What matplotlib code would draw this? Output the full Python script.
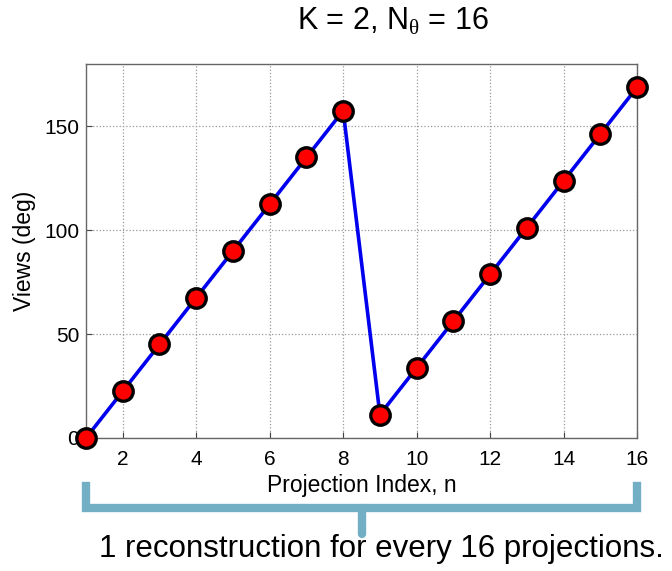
import numpy as np
import matplotlib.pyplot as plt
from matplotlib.transforms import blended_transform_factory

plt.rcParams['font.family'] = ['Liberation Sans', 'DejaVu Sans']
plt.rcParams['mathtext.fontset'] = 'custom'
plt.rcParams['mathtext.rm'] = 'Liberation Serif'

# projection index and view angle (deg), K = 2 interleaved, N_theta = 16
proj_index = [1, 2, 3, 4, 5, 6, 7, 8, 9, 10, 11, 12, 13, 14, 15, 16]
views_deg = [0, 22.5, 45, 67.5, 90, 112.5, 135, 157.5,
             11.25, 33.75, 56.25, 78.75, 101.25, 123.75, 146.25, 168.75]
x_ticks = [2, 4, 6, 8, 10, 12, 14, 16]
y_ticks = [0, 50, 100, 150]

fig = plt.figure(figsize=(6.72, 5.71), dpi=100)
ax = fig.add_axes([0.128, 0.233, 0.820, 0.655])

ax.plot(proj_index, views_deg, '-o', color='#0000ee', lw=2.6,
        marker='o', ms=14, mfc='#ff0000', mec='black', mew=2.4,
        clip_on=False, zorder=3)

ax.set_xlim(1, 16)
ax.set_ylim(0, 180)
ax.set_xticks(x_ticks)
ax.set_yticks(y_ticks)
ax.tick_params(direction='in', length=4, labelsize=15, color='#444444')
ax.tick_params(axis='x', pad=9)
ax.tick_params(axis='y', pad=5)
ax.grid(True, linestyle=':', color='#999999', lw=0.9)
for s in ax.spines.values():
    s.set_color('#666666')
    s.set_linewidth(1.0)

ax.set_xlabel('Projection Index, n', fontsize=16.5, labelpad=3)
ax.set_ylabel('Views (deg)', fontsize=16.5, labelpad=6)

fig.text(0.585, 0.963, r'K = 2, N$_{\mathrm{θ}}$ = 16', fontsize=22,
         ha='center', va='center')

# bracket under the x axis, spanning all 16 projections
tr = blended_transform_factory(ax.transData, fig.transFigure)
bc = '#72aec4'
ax.plot([1, 1, 16, 16], [0.148, 0.110, 0.110, 0.148], color=bc, lw=6,
        transform=tr, clip_on=False, solid_joinstyle='miter')
ax.plot([8.5, 8.5], [0.110, 0.065], color=bc, lw=6, transform=tr,
        clip_on=False, solid_capstyle='round')

fig.text(0.567, 0.039, '1 reconstruction for every 16 projections.',
         fontsize=22.5, ha='center', va='center')

fig.savefig('out.png', dpi=100)
